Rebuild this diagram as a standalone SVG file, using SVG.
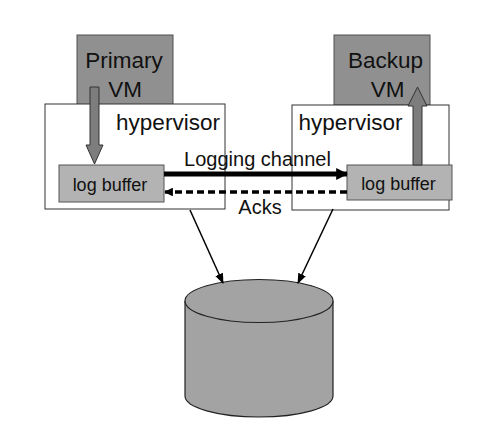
<svg xmlns="http://www.w3.org/2000/svg" width="504" height="444" viewBox="0 0 504 444">
<defs>
<style>
.vm{fill:#909090;stroke:#505050;stroke-width:1}
.hv{fill:#ffffff;stroke:#333;stroke-width:1}
.lb{fill:#b3b3b3;stroke:#555;stroke-width:1}
.t{font-family:"Liberation Sans",Arial,sans-serif;fill:#111}
.big{font-size:22.5px}
.sm{font-size:18px}
.md{font-size:20px}
.fat{fill:#7d7d7d;stroke:#333;stroke-width:1}
.cyl{fill:#a3a3a3;stroke:#222;stroke-width:1.2}
</style>
<marker id="ah" viewBox="0 0 10 10" refX="9" refY="5" markerWidth="2.4" markerHeight="2.6" orient="auto" markerUnits="strokeWidth">
<path d="M0,0 L10,5 L0,10 z" fill="#000"/>
</marker>
<marker id="ahd" viewBox="0 0 10 10" refX="9" refY="5" markerWidth="2.5" markerHeight="2.5" orient="auto" markerUnits="strokeWidth">
<path d="M0,0 L10,5 L0,10 z" fill="#000"/>
</marker>
<marker id="ahs" viewBox="0 0 10 10" refX="9" refY="5" markerWidth="7" markerHeight="7" orient="auto" markerUnits="strokeWidth">
<path d="M0,1 L10,5 L0,9 z" fill="#000"/>
</marker>
</defs>
<rect width="504" height="444" fill="#fff"/>
<g id="primary-vm">
<rect class="vm" x="77" y="35" width="96" height="70"/>
<text class="t big" x="124" y="68" text-anchor="middle">Primary</text>
<text class="t big" x="125" y="97" text-anchor="middle">VM</text>
</g>
<g id="backup-vm">
<rect class="vm" x="334" y="35" width="96" height="70"/>
<text class="t big" x="385.5" y="68" text-anchor="middle">Backup</text>
<text class="t big" x="387.5" y="97" text-anchor="middle">VM</text>
</g>
<g id="hypervisor-left">
<rect class="hv" x="45" y="104" width="180" height="105"/>
<text class="t big" x="168" y="130" text-anchor="middle">hypervisor</text>
</g>
<g id="hypervisor-right">
<rect class="hv" x="292" y="105" width="157" height="105"/>
<text class="t big" x="350.5" y="130" text-anchor="middle">hypervisor</text>
</g>
<g id="logbuf-left">
<rect class="lb" x="59" y="165" width="105" height="37"/>
<text class="t sm" x="110" y="191" text-anchor="middle">log buffer</text>
</g>
<g id="logbuf-right">
<rect class="lb" x="347" y="165" width="105" height="35"/>
<text class="t sm" x="398.5" y="190" text-anchor="middle">log buffer</text>
</g>
<g id="storage">
<path class="cyl" d="M185,301 L185,396 A74,21 0 0 0 333,396 L333,301"/>
<ellipse class="cyl" cx="259" cy="301" rx="74" ry="21.5"/>
</g>
<g id="connectors">
<path class="fat" d="M90,87 L99,87 L99,145 L103,145 L94.5,164 L86,145 L90,145 z"/>
<path class="fat" d="M413,165 L422,165 L422,106 L427,106 L417.5,87 L408,106 L413,106 z"/>
<line x1="164" y1="174" x2="347" y2="174" stroke="#000" stroke-width="5" marker-end="url(#ah)"/>
<line x1="347" y1="192" x2="165" y2="192" stroke="#000" stroke-width="3.5" stroke-dasharray="7,4" marker-end="url(#ahd)"/>
<line x1="190" y1="210" x2="223" y2="283" stroke="#000" stroke-width="1.5" marker-end="url(#ahs)"/>
<line x1="333" y1="209" x2="298" y2="283" stroke="#000" stroke-width="1.5" marker-end="url(#ahs)"/>
<text class="t md" x="257.5" y="166" text-anchor="middle">Logging channel</text>
<text class="t md" x="260" y="214" text-anchor="middle">Acks</text>
</g>
</svg>
